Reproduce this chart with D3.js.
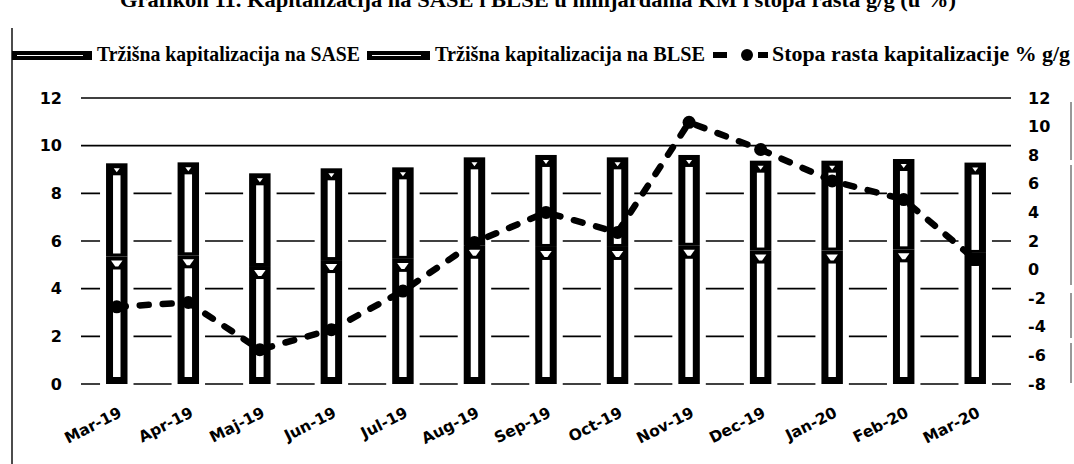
<!DOCTYPE html>
<html>
<head>
<meta charset="utf-8">
<script src="https://cdn.jsdelivr.net/npm/d3@7"></script>
<style>
  html, body { margin: 0; padding: 0; background: #fff; }
  svg { display: block; }
</style>
</head>
<body>
<svg id="chart" width="1074" height="464"></svg>
<script>
// ===== DATA =====
const months = ['Mar-19', 'Apr-19', 'Maj-19', 'Jun-19', 'Jul-19', 'Aug-19', 'Sep-19',
                'Oct-19', 'Nov-19', 'Dec-19', 'Jan-20', 'Feb-20', 'Mar-20'];
// market capitalisation, bn KM
const sase = [5.35, 5.4, 4.95, 5.2, 5.25, 5.8, 5.75, 5.75, 5.8, 5.6, 5.6, 5.65, 5.5];
const blse = [3.91, 3.9, 3.89, 3.85, 3.84, 3.71, 3.86, 3.76, 3.81, 3.77, 3.77, 3.79, 3.79];
// growth rate y/y, %
const growth = [-2.6, -2.3, -5.6, -4.2, -1.5, 1.9, 4.0, 2.6, 10.3, 8.4, 6.2, 4.9, 0.7];
const leftTicks = [0, 2, 4, 6, 8, 10, 12];
const rightTicks = [-8, -6, -4, -2, 0, 2, 4, 6, 8, 10, 12];

const legendLabels = ['Tržišna kapitalizacija na SASE', 'Tržišna kapitalizacija na BLSE',
                      'Stopa rasta kapitalizacije % g/g'];
const title = 'Grafikon 11. Kapitalizacija na SASE i BLSE u milijardama KM i stopa rasta g/g (u %)';

// ===== SETUP =====
const svg = d3.select('#chart');
const serif = '"Liberation Serif", "Times New Roman", serif';
const sans = '"DejaVu Sans", Verdana, sans-serif';

const plot = { left: 81, right: 1011, top: 98, bottom: 384 };

const x = d3.scaleBand()
    .domain(months)
    .range([plot.left, plot.right])
    .paddingInner(0.7)
    .paddingOuter(0.35);

const yLeft = d3.scaleLinear().domain([0, 12]).range([plot.bottom, plot.top]);
const yRight = d3.scaleLinear().domain([-8, 12]).range([plot.bottom, plot.top]);

const rows = months.map((m, i) => ({ m, sase: sase[i], blse: blse[i], g: growth[i] }));

// frame lines from the scanned page
svg.append('line')
    .attr('x1', 12).attr('x2', 12).attr('y1', 28).attr('y2', 464)
    .attr('stroke', '#111').attr('stroke-width', 1.5);
svg.append('line')
    .attr('x1', 1071).attr('x2', 1071).attr('y1', 102).attr('y2', 384)
    .attr('stroke', '#333').attr('stroke-width', 1)
    .attr('stroke-dasharray', '58,5,120,8,45,5,40,4');

// ===== TITLE =====
svg.append('text')
    .attr('x', 120).attr('y', 7)
    .attr('textLength', 836).attr('lengthAdjust', 'spacingAndGlyphs')
    .style('font-family', serif).style('font-weight', 'bold').style('font-size', '22px')
    .text(title);

// ===== LEGEND =====
const legY = 55;
function barSwatch(x0, x1) {
    svg.append('rect').attr('x', x0).attr('y', legY - 4).attr('width', x1 - x0).attr('height', 9).attr('fill', '#000');
    svg.append('rect').attr('x', x0 + 5).attr('y', legY).attr('width', x1 - x0 - 14).attr('height', 1).attr('fill', '#fff');
}
function legendText(x0, x1, label) {
    svg.append('text')
        .attr('x', x0).attr('y', legY + 6)
        .attr('textLength', x1 - x0).attr('lengthAdjust', 'spacingAndGlyphs')
        .style('font-family', serif).style('font-weight', 'bold').style('font-size', '21px')
        .text(label);
}
barSwatch(12, 92);
legendText(97, 360, legendLabels[0]);
barSwatch(367, 430);
legendText(435, 705, legendLabels[1]);
svg.append('line').attr('x1', 713).attr('x2', 727).attr('y1', legY).attr('y2', legY)
    .attr('stroke', '#000').attr('stroke-width', 6);
svg.append('line').attr('x1', 758).attr('x2', 768).attr('y1', legY).attr('y2', legY)
    .attr('stroke', '#000').attr('stroke-width', 6);
svg.append('circle').attr('cx', 747).attr('cy', legY).attr('r', 6).attr('fill', '#000');
legendText(772, 1070, legendLabels[2]);

// ===== GRIDLINES =====
svg.append('g')
    .selectAll('line')
    .data(leftTicks)
    .join('line')
    .attr('x1', plot.left).attr('x2', plot.right)
    .attr('y1', d => yLeft(d)).attr('y2', d => yLeft(d))
    .attr('stroke', '#000').attr('stroke-width', 1.6);

// white gap around each bar where it cuts the gridlines
svg.append('g')
    .selectAll('rect')
    .data(rows)
    .join('rect')
    .attr('x', d => x(d.m) - 6)
    .attr('width', x.bandwidth() + 12)
    .attr('y', d => yLeft(d.sase + d.blse) - 4)
    .attr('height', d => yLeft(0) - yLeft(d.sase + d.blse) + 6)
    .attr('fill', '#fff');

// ===== BARS =====
const bw = x.bandwidth();
const side = 7;
const barG = svg.append('g');
rows.forEach(d => {
    const x0 = x(d.m);
    const cx = x0 + bw / 2;
    const yBase = yLeft(0);
    const ySase = yLeft(d.sase);
    const yTop = yLeft(d.sase + d.blse);

    // SASE segment
    barG.append('rect').attr('x', x0).attr('y', ySase).attr('width', bw).attr('height', yBase - ySase).attr('fill', '#000');
    barG.append('rect').attr('x', x0 + side).attr('y', ySase + 13)
        .attr('width', bw - 2 * side).attr('height', Math.max(0, yBase - ySase - 20)).attr('fill', '#fff');
    barG.append('path')
        .attr('d', `M${x0 + 5},${ySase + 4}L${x0 + bw - 5},${ySase + 4}L${cx + 1.5},${ySase + 10}L${cx - 1.5},${ySase + 10}Z`)
        .attr('fill', '#fff');

    // BLSE segment
    barG.append('rect').attr('x', x0).attr('y', yTop).attr('width', bw).attr('height', ySase - yTop).attr('fill', '#000');
    barG.append('rect').attr('x', x0 + side).attr('y', yTop + 12)
        .attr('width', bw - 2 * side).attr('height', Math.max(0, ySase - yTop - 15)).attr('fill', '#fff');
    barG.append('path')
        .attr('d', `M${cx - 3},${yTop + 5}L${cx + 3},${yTop + 5}L${cx},${yTop + 9}Z`)
        .attr('fill', '#fff');
});

// ===== GROWTH LINE =====
const line = d3.line()
    .x(d => x(d.m) + bw / 2)
    .y(d => yRight(d.g));

svg.append('path')
    .datum(rows)
    .attr('d', line)
    .attr('fill', 'none')
    .attr('stroke', '#000')
    .attr('stroke-width', 6.5)
    .attr('stroke-linecap', 'round')
    .attr('stroke-dasharray', '9,14');

svg.append('g')
    .selectAll('circle')
    .data(rows)
    .join('circle')
    .attr('cx', d => x(d.m) + bw / 2)
    .attr('cy', d => yRight(d.g))
    .attr('r', 6.5)
    .attr('fill', '#000');

// ===== AXES =====
function styleAxis(g) {
    g.select('.domain').remove();
    g.selectAll('.tick line').remove();
    g.selectAll('text')
        .style('font-family', sans)
        .style('font-weight', 'bold')
        .style('font-size', '16px')
        .attr('fill', '#000');
}

svg.append('g')
    .attr('transform', `translate(${plot.left},0)`)
    .call(d3.axisLeft(yLeft).tickValues(leftTicks).tickSize(0).tickPadding(19))
    .call(styleAxis);

svg.append('g')
    .attr('transform', `translate(${plot.right},0)`)
    .call(d3.axisRight(yRight).tickValues(rightTicks).tickSize(0).tickPadding(17))
    .call(styleAxis)
    .selectAll('text').text(d => String(d));

svg.append('g')
    .attr('transform', `translate(0,${plot.bottom})`)
    .call(d3.axisBottom(x).tickSize(0).tickPadding(0))
    .call(styleAxis)
    .selectAll('text')
    .style('font-size', '15.5px')
    .attr('text-anchor', 'end')
    .attr('dy', 0)
    .attr('transform', 'translate(6,32) rotate(-27)');
</script>
</body>
</html>
